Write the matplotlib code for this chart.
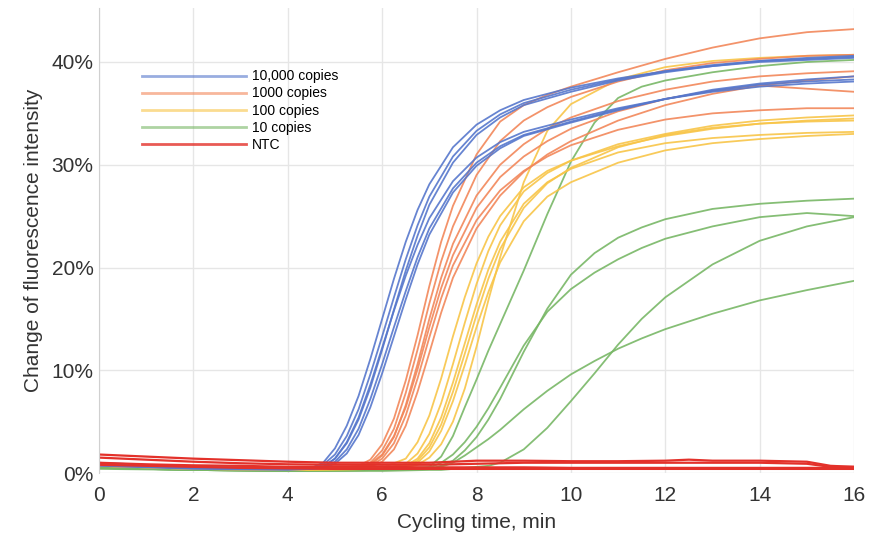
import numpy as np
import matplotlib.pyplot as plt
from matplotlib.lines import Line2D

plt.rcParams['font.family'] = ['Liberation Sans', 'DejaVu Sans']

# Valores (% de cambio de fluorescencia)

# 10,000 copias
t_blue = [0, 2, 4, 4.5, 4.75, 5, 5.25, 5.5, 5.75, 6, 6.25, 6.5, 6.75, 7, 7.5, 8, 8.5, 9, 10, 11, 12, 13, 14, 15, 16]
blue_1 = [0.9, 0.5, 0.4, 0.5, 1.0, 2.4, 4.6, 7.5, 11.1, 15.0, 18.9, 22.5, 25.6, 28.1, 31.7, 33.9, 35.3, 36.3, 37.5, 38.4, 39.1, 39.7, 40.1, 40.3, 40.5]
blue_2 = [0.8, 0.5, 0.4, 0.4, 0.8, 1.8, 3.6, 6.2, 9.6, 13.3, 17.1, 20.8, 24.1, 26.9, 30.8, 33.3, 34.9, 36.0, 37.3, 38.3, 39.1, 39.6, 40.0, 40.2, 40.4]
blue_3 = [1.0, 0.6, 0.5, 0.5, 0.6, 1.4, 2.9, 5.2, 8.3, 12.0, 15.9, 19.7, 23.1, 26.1, 30.2, 32.9, 34.6, 35.8, 37.1, 38.2, 39.0, 39.6, 40.1, 40.4, 40.6]
blue_4 = [0.7, 0.4, 0.3, 0.4, 0.6, 1.4, 3.0, 5.4, 8.6, 12.2, 15.8, 19.2, 22.2, 24.8, 28.4, 30.7, 32.2, 33.2, 34.4, 35.5, 36.4, 37.1, 37.6, 37.9, 38.1]
blue_5 = [0.8, 0.5, 0.4, 0.4, 0.5, 1.1, 2.3, 4.3, 7.2, 10.6, 14.2, 17.7, 21.0, 23.8, 27.7, 30.2, 31.8, 32.9, 34.2, 35.4, 36.4, 37.2, 37.8, 38.1, 38.3]
blue_6 = [0.9, 0.5, 0.4, 0.4, 0.5, 0.9, 1.9, 3.7, 6.4, 9.7, 13.3, 16.9, 20.3, 23.2, 27.3, 29.9, 31.6, 32.8, 34.1, 35.3, 36.4, 37.3, 37.9, 38.3, 38.6]

# 1000 copias
t_orange = [0, 2, 4, 5, 5.5, 5.75, 6, 6.25, 6.5, 6.75, 7, 7.25, 7.5, 8, 8.5, 9, 9.5, 10, 11, 12, 13, 14, 15, 16]
orange_1 = [0.9, 0.6, 0.5, 0.5, 0.7, 1.3, 2.8, 5.3, 9.0, 13.4, 18.2, 22.5, 26.0, 31.0, 34.2, 35.8, 36.8, 37.6, 39.0, 40.3, 41.4, 42.3, 42.9, 43.2]
orange_2 = [0.8, 0.5, 0.4, 0.4, 0.6, 1.0, 2.2, 4.3, 7.8, 12.0, 16.5, 20.6, 24.0, 29.0, 32.3, 34.3, 35.6, 36.6, 38.1, 39.2, 39.9, 40.3, 40.6, 40.7]
orange_3 = [0.7, 0.5, 0.4, 0.4, 0.5, 0.8, 1.7, 3.5, 6.6, 10.6, 15.0, 19.0, 22.3, 27.0, 30.0, 32.0, 33.5, 34.6, 36.2, 37.3, 38.1, 38.6, 38.9, 39.1]
orange_4 = [0.9, 0.6, 0.5, 0.5, 0.6, 0.9, 1.8, 3.6, 6.4, 10.1, 14.2, 18.0, 21.2, 25.8, 28.8, 30.8, 32.3, 33.5, 35.2, 36.4, 37.2, 37.7, 37.4, 37.1]
orange_5 = [0.8, 0.5, 0.4, 0.4, 0.5, 0.7, 1.4, 2.9, 5.6, 9.2, 13.2, 17.0, 20.2, 24.6, 27.5, 29.4, 30.8, 31.9, 33.4, 34.4, 35.0, 35.3, 35.5, 35.5]
orange_6 = [0.7, 0.5, 0.4, 0.4, 0.4, 0.6, 1.1, 2.3, 4.6, 7.9, 11.7, 15.6, 19.0, 23.8, 27.0, 29.3, 31.0, 32.3, 34.3, 35.8, 36.9, 37.7, 38.2, 38.6]

# 100 copias
t_yellow = [0, 2, 4, 6, 6.5, 6.75, 7, 7.25, 7.5, 7.75, 8, 8.25, 8.5, 9, 9.5, 10, 11, 12, 13, 14, 15, 16]
yellow_1 = [0.7, 0.4, 0.3, 0.4, 0.5, 0.8, 1.5, 2.8, 5.0, 8.2, 12.3, 16.8, 21.0, 28.3, 33.3, 35.9, 38.3, 39.5, 40.1, 40.4, 40.6, 40.7]
yellow_2 = [0.8, 0.5, 0.4, 0.5, 1.4, 3.0, 5.6, 9.2, 13.3, 17.1, 20.4, 23.0, 25.0, 27.8, 29.4, 30.4, 31.8, 32.8, 33.5, 34.0, 34.3, 34.5]
yellow_3 = [0.7, 0.4, 0.3, 0.4, 0.9, 1.9, 3.8, 6.8, 10.6, 14.6, 18.4, 21.6, 24.1, 27.4, 29.2, 30.4, 32.0, 33.0, 33.8, 34.3, 34.6, 34.8]
yellow_4 = [0.8, 0.5, 0.4, 0.4, 0.7, 1.4, 2.9, 5.4, 8.8, 12.6, 16.4, 19.8, 22.5, 26.2, 28.3, 29.6, 31.2, 32.1, 32.6, 32.9, 33.1, 33.2]
yellow_5 = [0.7, 0.4, 0.3, 0.4, 0.5, 1.0, 2.1, 4.1, 7.0, 10.5, 14.2, 17.6, 20.5, 24.5, 26.9, 28.3, 30.2, 31.4, 32.1, 32.5, 32.8, 33.0]
yellow_6 = [0.8, 0.5, 0.4, 0.4, 0.6, 1.2, 2.5, 4.7, 7.9, 11.6, 15.4, 18.9, 21.8, 25.8, 28.2, 29.7, 31.7, 32.9, 33.6, 34.0, 34.2, 34.3]

# 10 copias
t_green = [0, 2, 4, 6, 7, 7.25, 7.5, 7.75, 8, 8.25, 8.5, 9, 9.5, 10, 10.5, 11, 11.5, 12, 13, 14, 15, 16]
green_1 = [0.5, 0.3, 0.2, 0.3, 0.6, 1.6, 3.6, 6.4, 9.1, 11.9, 14.5, 19.7, 25.2, 30.3, 34.1, 36.5, 37.6, 38.2, 39.0, 39.6, 40.0, 40.2]
green_2 = [0.5, 0.3, 0.2, 0.3, 0.4, 0.7, 1.2, 2.2, 3.5, 5.2, 7.2, 11.8, 16.0, 19.3, 21.4, 22.9, 23.9, 24.7, 25.7, 26.2, 26.5, 26.7]
green_3 = [0.5, 0.3, 0.2, 0.3, 0.5, 1.0, 1.8, 3.0, 4.5, 6.3, 8.3, 12.4, 15.7, 17.9, 19.5, 20.8, 21.9, 22.8, 24.0, 24.9, 25.3, 25.0]
green_4 = [0.4, 0.3, 0.2, 0.2, 0.3, 0.3, 0.4, 0.5, 0.6, 0.7, 1.0, 2.3, 4.4, 7.0, 9.7, 12.5, 15.0, 17.1, 20.3, 22.6, 24.0, 24.9]
green_5 = [0.5, 0.3, 0.2, 0.3, 0.4, 0.6, 1.0, 1.7, 2.5, 3.3, 4.2, 6.2, 8.0, 9.6, 10.9, 12.1, 13.1, 14.0, 15.5, 16.8, 17.8, 18.7]

# NTC
t_red = [0, 1, 2, 3, 4, 5, 6, 7, 8, 9, 10, 11, 12, 12.5, 13, 14, 15, 15.5, 16]
red_1 = [1.8, 1.6, 1.4, 1.25, 1.1, 1.0, 1.0, 1.0, 1.2, 1.2, 1.15, 1.15, 1.2, 1.3, 1.2, 1.2, 1.1, 0.7, 0.6]
red_2 = [1.5, 1.3, 1.1, 0.95, 0.85, 0.8, 0.8, 0.8, 0.9, 1.0, 1.0, 1.0, 1.0, 1.0, 1.0, 1.0, 0.9, 0.6, 0.6]
red_3 = [1.0, 0.85, 0.75, 0.7, 0.6, 0.6, 0.6, 0.55, 0.55, 0.55, 0.5, 0.5, 0.5, 0.5, 0.5, 0.5, 0.5, 0.5, 0.5]
red_4 = [0.8, 0.7, 0.6, 0.5, 0.45, 0.4, 0.4, 0.4, 0.4, 0.4, 0.4, 0.4, 0.4, 0.4, 0.4, 0.4, 0.4, 0.4, 0.4]

c_blue = "#5677cc"
c_orange = "#f2875a"
c_yellow = "#f8c548"
c_green = "#78b766"
c_red = "#e3312a"

fig = plt.figure(figsize=(8.76, 5.36), dpi=100)
ax = fig.add_axes([0.113, 0.1175, 0.862, 0.8675])

for y in [green_1, green_2, green_3, green_4, green_5]:
    ax.plot(t_green, y, color=c_green, lw=1.3, alpha=0.9)
for y in [yellow_1, yellow_2, yellow_3, yellow_4, yellow_5, yellow_6]:
    ax.plot(t_yellow, y, color=c_yellow, lw=1.3, alpha=0.9)
for y in [orange_1, orange_2, orange_3, orange_4, orange_5, orange_6]:
    ax.plot(t_orange, y, color=c_orange, lw=1.3, alpha=0.9)
for y in [blue_1, blue_2, blue_3, blue_4, blue_5, blue_6]:
    ax.plot(t_blue, y, color=c_blue, lw=1.3, alpha=0.9)
for y in [red_1, red_2, red_3, red_4]:
    ax.plot(t_red, y, color=c_red, lw=1.6)

ax.set_xlim(0, 16)
ax.set_ylim(0, 45.25)
ax.set_xticks(range(0, 17, 2))
ax.set_yticks([0, 10, 20, 30, 40])
ax.set_yticklabels(["0%", "10%", "20%", "30%", "40%"])
ax.grid(True, color="#e6e6e6", lw=1)
ax.set_axisbelow(True)
for s in ["top", "right", "bottom"]:
    ax.spines[s].set_visible(False)
ax.spines["left"].set_color("#d0d0d0")
ax.tick_params(length=0, labelsize=15, colors="#333333", pad=4)
ax.tick_params(axis="x", pad=9)
ax.set_xlabel("Cycling time, min", fontsize=15, color="#333333", labelpad=6)
ax.set_ylabel("Change of fluorescence intensity", fontsize=15, color="#333333", labelpad=6)

handles = [Line2D([], [], color=c, lw=2, alpha=0.6) for c in [c_blue, c_orange, c_yellow, c_green]]
handles.append(Line2D([], [], color=c_red, lw=2, alpha=0.8))
ax.legend(handles, ["10,000 copies", "1000 copies", "100 copies", "10 copies", "NTC"],
          loc="upper left", bbox_to_anchor=(0.05, 0.88), frameon=False, fontsize=10,
          handlelength=7.5, handletextpad=0.4, labelspacing=0.22, borderaxespad=0)

fig.savefig("out.png", dpi=100)
